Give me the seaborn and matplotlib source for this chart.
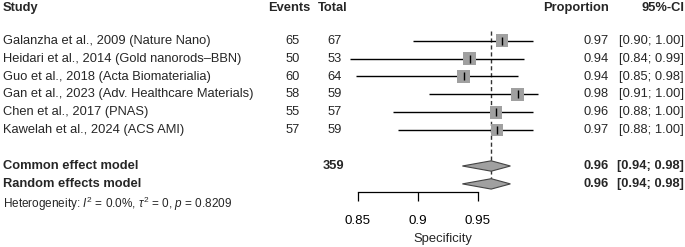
import numpy as np
import pandas as pd
import matplotlib
matplotlib.use("Agg")
import matplotlib.pyplot as plt
import matplotlib.transforms as mtransforms
import seaborn as sns

studies = ["Galanzha et al., 2009 (Nature Nano)",
           "Heidari et al., 2014 (Gold nanorods\u2013BBN)",
           "Guo et al., 2018 (Acta Biomaterialia)",
           "Gan et al., 2023 (Adv. Healthcare Materials)",
           "Chen et al., 2017 (PNAS)",
           "Kawelah et al., 2024 (ACS AMI)"]
events = [65, 50, 60, 58, 55, 57]
totals = [67, 53, 64, 59, 57, 59]
prop = [0.970, 0.943, 0.938, 0.983, 0.9649, 0.966]
lower = [0.896, 0.843, 0.848, 0.909, 0.879, 0.883]
upper = [0.996, 0.988, 0.983, 1.000, 0.996, 0.996]

total_all = 359
common_est, common_lo, common_hi = 0.961, 0.937, 0.977
random_est, random_lo, random_hi = 0.961, 0.937, 0.977
het_text = r"Heterogeneity: $I^2$ = 0.0%, $\tau^2$ = 0, $p$ = 0.8209"
xticks = [0.85, 0.9, 0.95]
xtick_labels = ["0.85", "0.9", "0.95"]

sns.set_theme(style="white")
plt.rcParams["font.family"] = ["Liberation Sans", "DejaVu Sans"]
plt.rcParams["mathtext.fontset"] = "custom"
plt.rcParams["mathtext.rm"] = "Liberation Sans"
plt.rcParams["mathtext.it"] = "Liberation Sans:italic"

W, H = 685, 247
fig = plt.figure(figsize=(W / 100, H / 100), dpi=100)
ax = fig.add_axes([0, 0, 1, 1])
ax.patch.set_alpha(0)

# pixel -> data mapping: 0.85 at x=358px, 1200 px per unit; row 0 at 40.7px, 17.9 px per row
ax.set_xlim(0.85 - 358 / 1200, 0.85 + (W - 358) / 1200)
ax.set_ylim((H - 40.7) / 17.9, -40.7 / 17.9)

df = pd.DataFrame({"study": studies, "events": events, "total": totals,
                   "prop": prop, "lower": lower, "upper": upper})
df["row"] = np.arange(len(df))
row_common = len(df) + 1
row_random = len(df) + 2
row_het = len(df) + 3.1
row_head = -1.8

# CI lines
ax.hlines(df["row"], df["lower"], df["upper"], color="black", lw=1.0, zorder=2)
# dashed line at common estimate
ax.vlines(common_est, -0.55, row_random + 0.3, color="#333333", lw=1.0,
          linestyles=(0, (3, 2)), zorder=1)
sns.scatterplot(data=df, x="prop", y="row", marker="s", s=80, color="#a0a0a0",
                edgecolor="none", ax=ax, zorder=3, legend=False)
sns.scatterplot(data=df, x="prop", y="row", marker="|", s=30, color="black",
                linewidth=1.0, ax=ax, zorder=4, legend=False)

# diamonds
dh = 0.29
for r, est, lo, hi in [(row_common, common_est, common_lo, common_hi),
                       (row_random, random_est, random_lo, random_hi)]:
    ax.fill([lo, est, hi, est], [r, r - dh, r, r + dh], facecolor="#a0a0a0",
            edgecolor="#444444", lw=0.8, zorder=3)

# axis
for s in ["top", "left", "right"]:
    ax.spines[s].set_visible(False)
ax.spines["bottom"].set_position(("data", (192.3 - 40.7) / 17.9))
ax.spines["bottom"].set_bounds(xticks[0], xticks[-1])
ax.spines["bottom"].set_color("black")
ax.spines["bottom"].set_linewidth(0.9)
ax.set_xticks(xticks)
ax.set_xticklabels(xtick_labels)
ax.tick_params(axis="x", bottom=True, direction="out", length=6.5, width=0.9,
               pad=9.5, labelsize=9.6, colors="black")
ax.set_yticks([])
ax.set_xlabel("")
ax.set_ylabel("")
ax.text(0.921, (239 - 40.7) / 17.9, "Specificity", ha="center", va="center",
        fontsize=9.4)

# text columns (x in pixels)
tr = mtransforms.blended_transform_factory(fig.transFigure, ax.transData)
fs = 9.3


def put(xpx, y, s, ha="left", **kw):
    ax.text(xpx / W, y, s, transform=tr, ha=ha, va="center", fontsize=kw.pop("fontsize", fs), **kw)


put(3, row_head, "Study", weight="bold")
put(289, row_head, "Events", ha="center", weight="bold")
put(333, row_head, "Total", ha="center", weight="bold")
put(609, row_head, "Proportion", ha="right", weight="bold")
put(684, row_head, "95%-CI", ha="right", weight="bold")

for _, r in df.iterrows():
    put(3, r["row"], r["study"])
    put(293, r["row"], f"{int(r['events'])}", ha="center")
    put(335, r["row"], f"{int(r['total'])}", ha="center")
    put(609, r["row"], f"{r['prop']:.2f}", ha="right")
    put(684, r["row"], f"[{r['lower']:.2f}; {r['upper']:.2f}]", ha="right")

put(3, row_common, "Common effect model", weight="bold")
put(3, row_random, "Random effects model", weight="bold")
put(333, row_common, f"{total_all}", ha="center", weight="bold")
for r, est, lo, hi in [(row_common, common_est, common_lo, common_hi),
                       (row_random, random_est, random_lo, random_hi)]:
    put(609, r, f"{est:.2f}", ha="right", weight="bold")
    put(684, r, f"[{lo:.2f}; {hi:.2f}]", ha="right", weight="bold")
put(3, row_het, het_text, fontsize=8.5)

fig.savefig("out.png", dpi=100)
